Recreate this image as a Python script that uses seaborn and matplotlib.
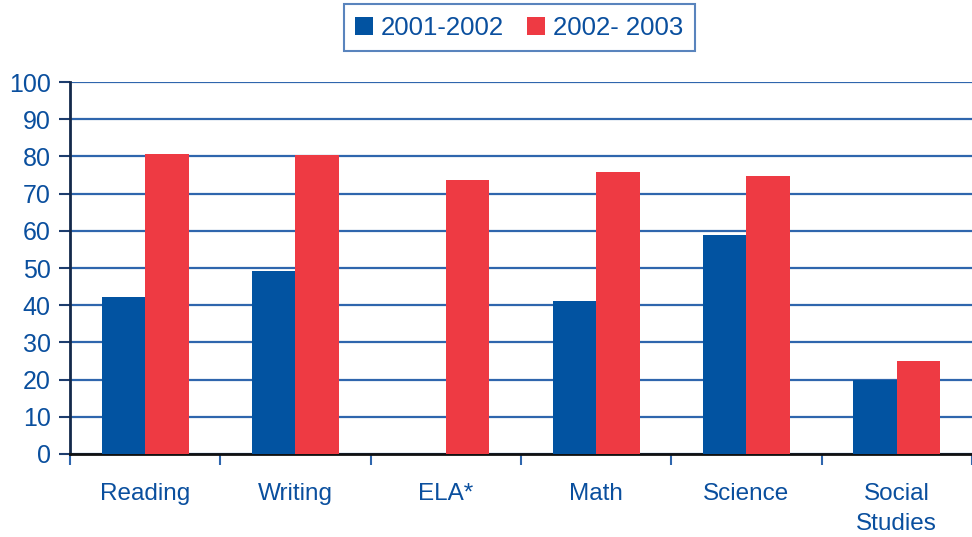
import numpy as np
import pandas as pd
import seaborn as sns
import matplotlib.pyplot as plt

# values
subjects = ["Reading", "Writing", "ELA*", "Math", "Science", "Social\nStudies"]
yr_2001_2002 = [42.2, 49.2, np.nan, 41.1, 58.9, 19.9]
yr_2002_2003 = [80.6, 80.4, 73.7, 75.8, 74.7, 25.0]
series_names = ["2001-2002", "2002- 2003"]

df = pd.DataFrame({
    "subject": subjects * 2,
    "score": yr_2001_2002 + yr_2002_2003,
    "year": [series_names[0]] * len(subjects) + [series_names[1]] * len(subjects),
})

sns.set_theme(style="white")
plt.rcParams['font.family'] = ['Liberation Sans', 'DejaVu Sans']
txt_color = "#0a4f9e"

fig = plt.figure(figsize=(9.72, 5.37), dpi=100)
ax = fig.add_axes([0.072, 0.1546, 0.928, 0.6926])

sns.barplot(data=df, x="subject", y="score", hue="year", order=subjects,
            palette=["#0253a1", "#ee3a43"], width=0.58, errorbar=None,
            linewidth=0, saturation=1, ax=ax, zorder=3)

ax.set_ylim(0, 100)
ax.set_xlim(-0.5, 5.5)
ax.set_yticks(range(0, 101, 10))
ax.yaxis.grid(True, color="#2f66ad", linewidth=1.6, zorder=0)
ax.set_axisbelow(True)

# ticks
ax.tick_params(axis="y", which="major", left=True, length=8, width=1.5,
               color="#1d3d6e", labelsize=18, labelcolor=txt_color, pad=6)
ax.tick_params(axis="x", which="major", length=0, labelsize=17.5,
               labelcolor=txt_color, pad=21)
ax.set_xticks(np.arange(-0.5, 6.0, 1.0), minor=True)
ax.tick_params(axis="x", which="minor", bottom=True, length=8, width=1.5,
               color="#2f66ad")
for lbl in ax.get_xticklabels():
    lbl.set_linespacing(1.45)
    lbl.set_verticalalignment("top")

for s in ["top", "right"]:
    ax.spines[s].set_visible(False)
ax.spines["left"].set_color("#13294b")
ax.spines["left"].set_linewidth(2)
ax.spines["bottom"].set_color("#111111")
ax.spines["bottom"].set_linewidth(2)
ax.set_xlabel("")
ax.set_ylabel("")

handles, labels = ax.get_legend_handles_labels()
ax.get_legend().remove()
leg = fig.legend(handles, labels, loc="center", bbox_to_anchor=(0.534, 0.948),
                 ncol=2, frameon=True, fancybox=False, fontsize=18.5,
                 handlelength=0.7, handleheight=0.7, handletextpad=0.3,
                 columnspacing=0.9, borderpad=0.45)
leg.get_frame().set_edgecolor("#2f66ad")
leg.get_frame().set_linewidth(1.5)
for t in leg.get_texts():
    t.set_color(txt_color)

fig.savefig("out.png", dpi=100)
